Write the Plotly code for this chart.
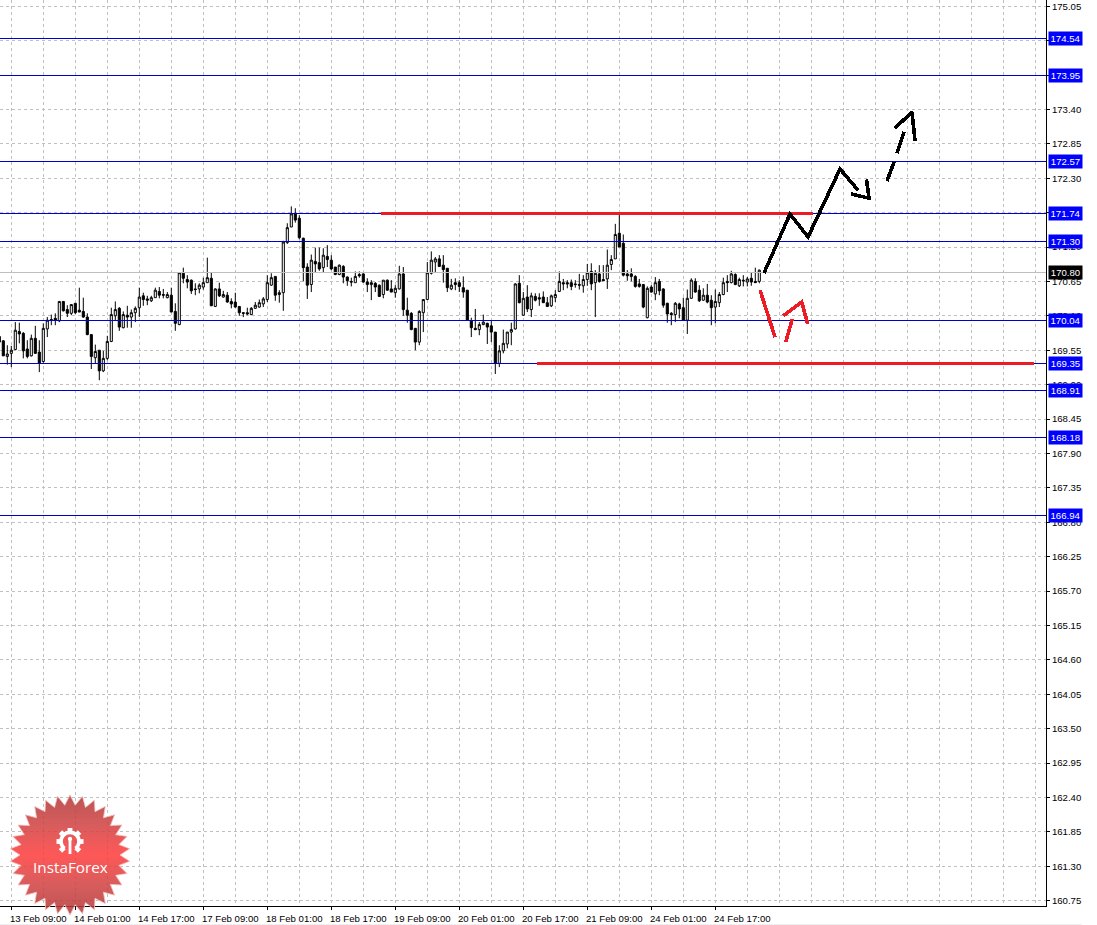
import math, base64
import plotly.graph_objects as go

# bars, starting three hours before the 13 Feb 09:00 label position
bar_index = list(range(-3, 188))

highs = [169.77,
169.71,169.63,169.62,170.00,169.99,169.84,169.71,169.80,169.94,169.71,
169.98,170.08,170.12,170.14,170.33,170.33,170.27,170.28,170.30,170.55,
170.39,170.14,169.80,169.64,169.55,169.54,169.78,170.23,170.33,170.24,
170.17,170.26,170.20,170.25,170.55,170.47,170.42,170.42,170.55,170.56,
170.53,170.48,170.55,170.30,170.79,170.87,170.75,170.68,170.62,170.62,
170.71,171.03,170.79,170.54,170.63,170.50,170.48,170.38,170.47,170.25,
170.16,170.23,170.24,170.32,170.36,170.40,170.75,170.78,170.73,170.51,
171.30,171.58,171.85,171.82,171.71,171.35,170.94,171.08,171.19,171.19,
171.18,171.23,171.07,170.88,170.92,170.91,170.73,170.71,170.81,170.81,
170.78,170.70,170.67,170.64,170.60,170.67,170.68,170.67,170.59,170.90,
170.88,170.39,170.16,169.90,170.19,170.36,170.96,171.13,171.04,171.07,
171.07,170.86,170.69,170.70,170.67,170.73,170.51,170.07,170.21,170.00,
170.12,169.99,170.03,169.84,169.63,169.88,169.84,169.99,170.62,170.75,
170.48,170.59,170.47,170.46,170.46,170.49,170.40,170.44,170.51,170.81,
170.69,170.67,170.68,170.67,170.77,170.75,170.93,170.94,170.83,170.91,
170.91,171.16,171.07,171.57,171.74,171.40,170.83,170.86,170.75,170.69,
170.61,170.57,170.59,170.72,170.69,170.54,170.31,170.16,170.32,170.31,
170.39,170.52,170.70,170.70,170.59,170.54,170.61,170.43,170.52,170.48,
170.71,170.75,170.82,170.78,170.71,170.75,170.72,170.79,170.87,170.84]

body_tops = [169.77,
169.70,169.49,169.55,169.87,169.85,169.82,169.57,169.74,169.74,169.52,
169.90,170.03,170.04,170.06,170.33,170.33,170.20,170.28,170.30,170.19,
170.17,170.08,169.80,169.53,169.55,169.42,169.69,170.12,170.20,170.22,
170.12,170.11,170.15,170.22,170.40,170.42,170.37,170.39,170.51,170.49,
170.44,170.44,170.43,170.17,170.79,170.78,170.68,170.67,170.53,170.59,
170.63,170.71,170.70,170.53,170.53,170.44,170.43,170.33,170.32,170.25,
170.15,170.15,170.22,170.27,170.31,170.37,170.63,170.71,170.73,170.47,
171.28,171.51,171.73,171.73,171.66,171.34,170.88,170.99,170.97,170.95,
171.07,171.05,170.99,170.88,170.91,170.89,170.72,170.65,170.73,170.76,
170.77,170.64,170.63,170.62,170.59,170.67,170.67,170.53,170.54,170.77,
170.77,170.19,170.14,169.90,170.17,170.36,170.79,170.99,171.01,171.01,
170.91,170.86,170.59,170.63,170.63,170.55,170.51,170.02,169.90,169.96,
170.00,169.98,169.94,169.84,169.54,169.66,169.84,169.88,170.61,170.62,
170.38,170.40,170.42,170.41,170.39,170.40,170.31,170.42,170.44,170.65,
170.63,170.63,170.63,170.61,170.60,170.68,170.79,170.81,170.78,170.77,
170.68,170.91,171.00,171.40,171.42,171.26,170.77,170.77,170.73,170.61,
170.60,170.54,170.56,170.63,170.65,170.53,170.30,170.14,170.30,170.29,
170.23,170.38,170.67,170.65,170.51,170.43,170.43,170.35,170.33,170.44,
170.63,170.65,170.77,170.76,170.68,170.67,170.69,170.70,170.65,170.83]

body_bottoms = [169.68,
169.46,169.45,169.50,169.56,169.81,169.54,169.45,169.46,169.50,169.34,
169.37,169.89,170.03,170.03,170.02,170.18,170.14,170.14,170.15,170.16,
170.08,169.80,169.45,169.43,169.22,169.22,169.42,169.69,170.10,169.92,
169.91,170.08,170.08,170.15,170.23,170.36,170.35,170.34,170.39,170.43,
170.43,170.39,170.16,169.98,169.96,170.70,170.64,170.50,170.52,170.53,
170.56,170.63,170.26,170.25,170.42,170.40,170.32,170.29,170.24,170.15,
170.14,170.13,170.12,170.22,170.24,170.29,170.36,170.59,170.43,170.44,
170.47,171.27,171.52,171.63,171.35,170.87,170.59,170.60,170.93,170.85,
170.87,171.00,170.85,170.76,170.76,170.72,170.66,170.64,170.63,170.74,
170.64,170.60,170.60,170.56,170.41,170.44,170.51,170.48,170.47,170.53,
170.20,170.11,169.88,169.68,169.68,170.15,170.36,170.78,170.96,170.89,
170.84,170.55,170.53,170.60,170.57,170.48,170.03,169.91,169.88,169.88,
169.96,169.92,169.84,169.34,169.34,169.54,169.65,169.84,169.89,170.31,
170.11,170.21,170.20,170.35,170.37,170.31,170.25,170.26,170.39,170.49,
170.61,170.61,170.57,170.60,170.59,170.58,170.68,170.61,170.63,170.65,
170.66,170.69,170.92,171.01,171.20,170.75,170.74,170.73,170.57,170.57,
170.24,170.07,170.48,170.45,170.50,170.27,170.13,170.12,170.12,170.21,
170.03,170.03,170.38,170.48,170.34,170.35,170.32,170.23,170.24,170.31,
170.44,170.63,170.63,170.60,170.58,170.66,170.64,170.64,170.63,170.65]

lows = [169.67,
169.46,169.32,169.28,169.55,169.66,169.42,169.42,169.45,169.49,169.20,
169.35,169.76,169.95,169.95,170.00,170.17,170.08,170.11,170.13,170.16,
170.07,169.79,169.25,169.34,169.07,169.20,169.39,169.68,170.02,169.86,
169.90,169.91,169.91,170.00,170.08,170.26,170.27,170.32,170.39,170.38,
170.38,170.38,170.16,169.86,169.95,170.62,170.54,170.45,170.43,170.46,
170.52,170.63,170.26,170.24,170.40,170.39,170.31,170.22,170.23,170.10,
170.08,170.11,170.11,170.21,170.23,170.24,170.32,170.58,170.34,170.31,
170.18,171.25,171.52,171.59,171.32,170.65,170.37,170.48,170.80,170.82,
170.80,170.88,170.83,170.75,170.75,170.62,170.58,170.57,170.63,170.71,
170.63,170.48,170.35,170.48,170.40,170.38,170.50,170.48,170.39,170.52,
170.10,169.99,169.87,169.55,169.63,169.84,170.36,170.76,170.80,170.88,
170.63,170.48,170.51,170.51,170.48,170.39,170.02,169.76,169.87,169.79,
169.95,169.65,169.68,169.17,169.28,169.50,169.58,169.63,169.88,170.30,
170.10,170.16,170.08,170.33,170.26,170.31,170.24,170.24,170.32,170.48,
170.51,170.54,170.51,170.55,170.52,170.47,170.58,170.51,170.08,170.63,
170.66,170.53,170.83,171.01,171.20,170.73,170.66,170.65,170.55,170.55,
170.22,170.06,170.47,170.35,170.43,170.23,169.99,169.95,170.00,170.06,
170.02,169.81,170.37,170.47,170.32,170.34,170.30,169.95,169.98,170.24,
170.43,170.48,170.62,170.59,170.56,170.57,170.57,170.58,170.63,170.62]

# bars whose close is above the open (hollow candles)
rising = {-1,0,1,5,8,9,12,15,21,23,24,25,26,28,30,31,32,35,36,39,42,47,48,49,51,53,
          60,61,62,63,64,65,67,68,69,70,75,78,82,86,90,93,96,97,102,103,104,105,106,
          110,117,118,122,123,124,125,126,128,130,135,136,137,143,144,146,149,150,151,
          159,161,166,169,170,173,176,177,178,180,182,184,187}
opens = [b if k in rising else t for k, t, b in zip(bar_index, body_tops, body_bottoms)]
closes = [t if k in rising else b for k, t, b in zip(bar_index, body_tops, body_bottoms)]

time_ticks = [0, 16, 32, 48, 64, 80, 96, 112, 128, 144, 160, 176]
time_labels = ["13 Feb 09:00", "14 Feb 01:00", "14 Feb 17:00", "17 Feb 09:00", "18 Feb 01:00",
               "18 Feb 17:00", "19 Feb 09:00", "20 Feb 01:00", "20 Feb 17:00", "21 Feb 09:00",
               "24 Feb 01:00", "24 Feb 17:00"]
price_ticks = [175.05,174.50,173.95,173.40,172.85,172.30,171.75,171.20,170.65,170.10,169.55,
               169.00,168.45,167.90,167.35,166.80,166.25,165.70,165.15,164.60,164.05,163.50,
               162.95,162.40,161.85,161.30,160.75]

level_labels = ["174.54","173.95","172.57","171.74","171.30","170.04","169.35","168.91","168.18","166.94"]
level_prices = [174.54,173.95,172.57,171.74,171.29,170.03,169.34,168.90,168.16,166.90]
current_price = 170.80

red_bar_x = [[92.43, 200.35], [131.43, 255.7]]
red_bar_y = [[171.74, 171.74], [169.34, 169.34]]
red_sketch_x = [[187.18, 190.93], [193.6, 195.25], [193, 197.6, 199.1]]
red_sketch_y = [[170.51, 169.76], [169.68, 170.05], [170.10, 170.32, 169.97]]
black_sketch_x = [[188.18, 194.68, 199.18, 207.18, 211.68], [209.93, 214.43, 213.8],
                  [218.93, 220.68], [221.43, 223.18], [220.93, 225.18, 225.93]]
black_sketch_y = [[170.785, 171.728, 171.36, 172.447, 172.11], [172.05, 171.98, 172.28],
                  [172.255, 172.56], [172.70, 173.04], [173.10, 173.36, 172.895]]

X_RANGE = [-2.825, 258.675]
Y_RANGE = [160.665, 175.149]
GRID = "#C0C0C0"
DASH = "3px,3px"
FONT = "Liberation Sans, sans-serif"
TICK_SIZE = 9.6
LEVEL_BLUE = "#0000CC"
RED = "#ED1C24"

fig = go.Figure()
fig.add_trace(go.Scatter(x=X_RANGE, y=[current_price]*2, mode="lines",
                         line=dict(color="#BEBEBE", width=1), hoverinfo="skip"))
fig.add_trace(go.Candlestick(
    x=bar_index, open=opens, high=highs, low=lows, close=closes, whiskerwidth=0,
    increasing=dict(line=dict(color="black", width=1), fillcolor="white"),
    decreasing=dict(line=dict(color="black", width=1), fillcolor="black"),
    hoverinfo="skip"))
lx, ly = [], []
for v in level_prices:
    lx += [X_RANGE[0], X_RANGE[1], None]
    ly += [v, v, None]
fig.add_trace(go.Scatter(x=lx, y=ly, mode="lines", line=dict(color=LEVEL_BLUE, width=1), hoverinfo="skip"))
for xs, ys in zip(red_bar_x, red_bar_y):
    fig.add_trace(go.Scatter(x=xs, y=ys, mode="lines", line=dict(color=RED, width=3), hoverinfo="skip"))
for xs, ys in zip(red_sketch_x, red_sketch_y):
    fig.add_trace(go.Scatter(x=xs, y=ys, mode="lines", line=dict(color=RED, width=3.6), hoverinfo="skip"))
for xs, ys in zip(black_sketch_x, black_sketch_y):
    fig.add_trace(go.Scatter(x=xs, y=ys, mode="lines", line=dict(color="black", width=3.6), hoverinfo="skip"))

anns = []
for lab, v in zip(level_labels, level_prices):
    anns.append(dict(xref="paper", x=1, xshift=2, xanchor="left", yref="y", y=v, yanchor="middle", text=lab,
                     showarrow=False, bgcolor="#0000FF", font=dict(color="white", size=TICK_SIZE, family=FONT),
                     width=33, height=13, borderpad=0, align="center"))
anns.append(dict(xref="paper", x=1, xshift=2, xanchor="left", yref="y", y=current_price, yanchor="middle",
                 text="170.80", showarrow=False, bgcolor="black", font=dict(color="white", size=TICK_SIZE, family=FONT),
                 width=33, height=13, borderpad=0, align="center"))
anns.append(dict(xref="paper", x=70/1046, xanchor="center", yref="paper", y=(906-867)/906, yanchor="middle",
                 text="InstaForex", showarrow=False,
                 font=dict(color="white", size=15.3, family="Open Sans, sans-serif")))

# InstaForex seal (decoration)
spikes = 30
pts = []
for i in range(spikes*2):
    r = 60 if i % 2 == 0 else 50
    a = math.pi*i/spikes - math.pi/2
    pts.append(f"{60+r*math.cos(a):.2f},{60+r*math.sin(a):.2f}")
teeth = "".join(f'<rect x="57.6" y="33" width="4.8" height="5" fill="#fff" transform="rotate({a} 60 46.5)"/>'
                for a in [-135,-90,-45,0,45,90,135])
svg = f'''<svg xmlns="http://www.w3.org/2000/svg" width="120" height="120" viewBox="0 0 120 120">
<defs><linearGradient id="g" x1="0" y1="0" x2="0" y2="1">
<stop offset="0" stop-color="#B03636"/><stop offset="0.25" stop-color="#D04040"/><stop offset="0.5" stop-color="#FF3A3A"/>
<stop offset="0.75" stop-color="#D04040"/><stop offset="1" stop-color="#B03636"/></linearGradient></defs>
<polygon points="{' '.join(pts)}" fill="url(#g)" fill-opacity="0.85" stroke="#F6C0C0" stroke-width="0.8"/>
<path d="M 54.5 53.5 A 9 9 0 1 1 65.5 53.5" fill="none" stroke="#fff" stroke-width="3.6"/>
{teeth}
<rect x="58.6" y="46" width="2.8" height="13" fill="#fff"/><circle cx="60" cy="44" r="2.2" fill="#fff"/>
</svg>'''
src = "data:image/svg+xml;base64," + base64.b64encode(svg.encode()).decode()

fig.update_layout(
    width=1097, height=925, autosize=False,
    margin=dict(l=0, r=51, t=0, b=19, pad=0),
    paper_bgcolor="white", plot_bgcolor="white", showlegend=False, hovermode=False,
    boxgap=0.25,
    annotations=anns,
    images=[dict(source=src, xref="paper", yref="paper", x=10/1046, y=(906-795)/906, sizex=120/1046, sizey=120/906,
                 xanchor="left", yanchor="top", sizing="stretch", layer="above")],
    shapes=[dict(type="rect", xref="paper", yref="paper", x0=0, x1=1082/1046, y0=(906-924)/906, y1=(906-926)/906,
                 fillcolor="#F0F0F0", line=dict(width=0))],
    xaxis=dict(range=X_RANGE, rangeslider=dict(visible=False), tickmode="array", tickvals=time_ticks,
               ticktext=time_labels, ticks="outside", ticklen=3, tickcolor="black", tickwidth=1,
               ticklabelshift=27, tickangle=0,
               tickfont=dict(family=FONT, size=TICK_SIZE, color="black"),
               showline=True, linecolor="black", linewidth=1, mirror=False,
               showgrid=True, gridcolor=GRID, griddash=DASH, gridwidth=1, zeroline=False,
               minor=dict(tick0=0, dtick=8, showgrid=True, gridcolor=GRID, griddash=DASH, gridwidth=1, ticks="")),
    yaxis=dict(range=Y_RANGE, side="right", tickmode="array", tickvals=price_ticks,
               ticktext=[f"{v:.2f}" for v in price_ticks], ticks="outside", ticklen=3, tickcolor="black", tickwidth=1,
               tickfont=dict(family=FONT, size=TICK_SIZE, color="black"),
               showline=True, linecolor="black", linewidth=1, showgrid=True, gridcolor=GRID, griddash=DASH,
               gridwidth=1, zeroline=False),
)

post = """
document.body.style.margin='0';
document.querySelectorAll('.js-line').forEach(function(e){e.style.shapeRendering='crispEdges';});
"""
fig.write_html("out.html", post_script=post, config=dict(displayModeBar=False))
